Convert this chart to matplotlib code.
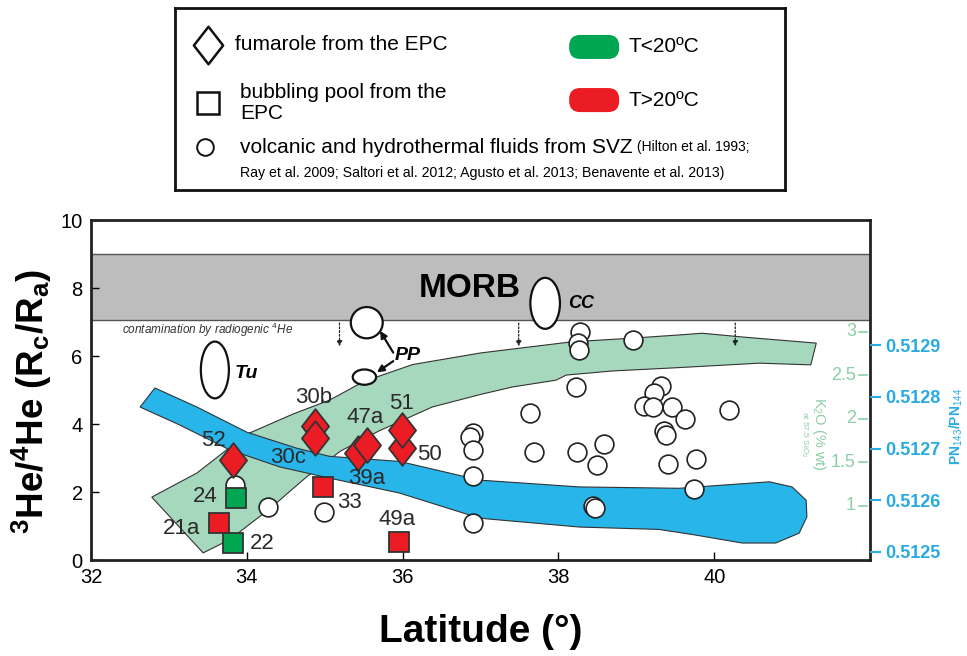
import matplotlib
matplotlib.use("Agg")
import matplotlib.pyplot as plt
from matplotlib.path import Path
from matplotlib.patches import Ellipse, Polygon, FancyBboxPatch
from matplotlib.transforms import blended_transform_factory

plt.rcParams['font.family'] = ['Liberation Sans', 'DejaVu Sans']
plt.rcParams['mathtext.fontset'] = 'custom'
plt.rcParams['mathtext.rm'] = 'Liberation Sans'
plt.rcParams['mathtext.it'] = 'Liberation Sans:italic'
plt.rcParams['mathtext.bf'] = 'Liberation Sans:bold'

# ---- data ----
# SVZ volcanic / hydrothermal fluids (open circles)
svz_lat = [33.85, 34.27, 34.99, 36.90, 36.87, 36.90, 36.90, 36.90,
           38.28, 38.25, 38.26, 38.96, 38.23, 37.63, 37.69, 38.24, 38.58, 38.49,
           38.44, 38.47, 39.32, 39.23, 39.10, 39.22, 39.46, 39.63, 39.36, 39.38,
           39.41, 39.77, 39.74, 40.19]
svz_he = [2.22, 1.56, 1.41, 3.73, 3.62, 3.24, 2.47, 1.09,
          6.72, 6.38, 6.18, 6.47, 5.08, 4.32, 3.18, 3.18, 3.41, 2.80,
          1.60, 1.53, 5.12, 4.90, 4.53, 4.50, 4.50, 4.15, 3.80, 3.68,
          2.82, 2.97, 2.09, 4.41]

# fumaroles from the EPC (diamonds, all T>20 C)
fum_names = ["52", "30b", "30c", "39a", "47a", "50", "51"]
fum_lat = [33.82, 34.87, 34.87, 35.43, 35.54, 35.99, 35.99]
fum_he = [2.94, 3.95, 3.60, 3.14, 3.38, 3.30, 3.82]

# bubbling pools from the EPC (squares)
pool_names = ["24", "22", "21a", "33", "49a"]
pool_lat = [33.86, 33.82, 33.64, 34.98, 35.95]
pool_he = [1.82, 0.50, 1.09, 2.14, 0.53]
pool_hot = [False, False, True, True, True]

# K2O trend band (green)
k2o_band_lat = [32.78, 33.36, 34.00, 34.60, 35.06, 35.50, 36.13, 37.00, 37.50, 38.18,
                38.91, 39.55, 39.85, 40.36, 40.83, 41.31,
                41.24, 40.58, 39.55, 38.69, 38.10, 37.97, 37.41, 37.00, 36.38,
                35.70, 35.20, 34.77, 34.29, 33.78, 33.44]
k2o_band_he = [1.85, 2.56, 3.70, 4.30, 4.70, 5.25, 5.75, 6.09, 6.23, 6.42,
               6.52, 6.62, 6.67, 6.56, 6.47, 6.38,
               5.74, 5.79, 5.66, 5.56, 5.44, 5.29, 5.09, 4.87, 4.50,
               3.80, 3.20, 2.45, 1.50, 0.60, 0.21]

# Nd isotope trend band (blue)
nd_band_lat = [32.82, 33.36, 34.00, 34.64, 35.06, 35.96, 36.99, 38.27, 39.55, 40.15,
               40.71, 41.00, 41.18, 41.19, 41.09, 40.79, 40.36, 39.72, 39.29, 38.27,
               36.99, 35.96, 35.06, 34.42, 33.78, 33.14, 32.63]
nd_band_he = [5.06, 4.50, 3.76, 3.29, 3.05, 2.90, 2.35, 2.15, 2.11, 2.21,
              2.30, 2.15, 1.76, 1.27, 0.79, 0.50, 0.50, 0.75, 0.90, 0.97,
              1.23, 1.97, 2.41, 2.74, 3.24, 3.97, 4.50]

# literature fields (ellipses): name, lat, He, width, height
field_names = ["Tu", "PP", "PP", "CC"]
field_lat = [33.59, 35.54, 35.51, 37.83]
field_he = [5.59, 6.98, 5.38, 7.55]
field_w = [0.36, 0.41, 0.30, 0.38]
field_h = [1.67, 0.92, 0.45, 1.50]

morb_low, morb_high = 7.05, 9.0
contam_lat = [35.19, 37.49, 40.27]

k2o_ticks = [1, 1.5, 2, 2.5, 3]
nd_ticks = [0.5125, 0.5126, 0.5127, 0.5128, 0.5129]

red = "#ec1c24"
green = "#00a651"
band_green = "#a6d8be"
band_blue = "#27b5ea"
k2o_col = "#8ccfa6"
nd_col = "#29abe2"
edge = "#333333"

fig = plt.figure(figsize=(9.67, 6.56), dpi=100)
ax = fig.add_axes([0.0941, 0.1463, 0.8056, 0.5183])
ax.set_xlim(32, 42)
ax.set_ylim(0, 10)

ax.axhspan(morb_low, morb_high, fc="#bdbdbd", ec="#555555", lw=1.0, zorder=1)
ax.text(36.86, 8.0, "MORB", fontsize=24, fontweight="bold", ha="center", va="center", zorder=2)

ax.add_patch(Polygon(list(zip(k2o_band_lat, k2o_band_he)), closed=True,
                     fc=band_green, ec=edge, lw=0.8, zorder=2))
ax.add_patch(Polygon(list(zip(nd_band_lat, nd_band_he)), closed=True,
                     fc=band_blue, ec=edge, lw=0.8, zorder=3))

for x in contam_lat:
    ax.annotate("", xy=(x, 6.2), xytext=(x, morb_low),
                arrowprops=dict(arrowstyle="-|>", ls=(0, (1.5, 1.5)), lw=0.9,
                                color="#222222", mutation_scale=8), zorder=4)
ax.text(32.4, 6.76, "contamination by radiogenic $^4$He", fontsize=8.5,
        style="italic", color="#333333", va="center", zorder=4)

for n, x, y, w, h in zip(field_names, field_lat, field_he, field_w, field_h):
    ax.add_patch(Ellipse((x, y), w, h, fc="white", ec="#111111", lw=1.6, zorder=5))
ax.text(33.85, 5.5, "Tu", fontsize=14, style="italic", fontweight="bold", va="center", zorder=6)
ax.text(38.12, 7.55, "CC", fontsize=13, style="italic", fontweight="bold", va="center", zorder=6)
ax.text(35.9, 6.03, "PP", fontsize=14, style="italic", fontweight="bold", va="center", zorder=6)
for tgt in [(35.71, 6.74), (35.67, 5.52)]:
    ax.annotate("", xy=tgt, xytext=(35.88, 6.1 if tgt[1] > 6 else 5.85),
                arrowprops=dict(arrowstyle="-|>", lw=1.6, color="#111111",
                                mutation_scale=10, shrinkA=0, shrinkB=0), zorder=6)

ax.plot(svz_lat, svz_he, "o", ms=13.5, mfc="white", mec="#222222", mew=1.2, ls="none", zorder=6)

diamond = Path([(0, 1), (0.78, 0), (0, -1), (-0.78, 0), (0, 1)],
               [Path.MOVETO, Path.LINETO, Path.LINETO, Path.LINETO, Path.CLOSEPOLY])
for x, y in zip(fum_lat, fum_he):
    ax.plot(x, y, marker=diamond, ms=25, mfc=red, mec=edge, mew=1.3, ls="none", zorder=7)
for x, y, hot in zip(pool_lat, pool_he, pool_hot):
    ax.plot(x, y, "s", ms=15, mfc=red if hot else green, mec=edge, mew=1.3, ls="none", zorder=7)

# label offsets (points)
fum_offsets = {"52": (-14, 14), "30b": (-1, 20), "30c": (-19, -14), "39a": (6, -18),
               "47a": (-1, 20), "50": (20, -5), "51": (0, 19)}
pool_offsets = {"24": (-22, 1), "22": (21, 0), "21a": (-27, -4), "33": (19, -11), "49a": (-1, 16)}
for n, x, y in zip(fum_names, fum_lat, fum_he):
    dx, dy = fum_offsets[n]
    ax.annotate(n, (x, y), xytext=(dx, dy), textcoords="offset points", fontsize=16,
                color="#2a2a2a", ha="center", va="center", zorder=8)
for n, x, y in zip(pool_names, pool_lat, pool_he):
    dx, dy = pool_offsets[n]
    ax.annotate(n, (x, y), xytext=(dx, dy), textcoords="offset points", fontsize=16,
                color="#2a2a2a", ha="center", va="center", zorder=8)

ax.set_xticks([32, 34, 36, 38, 40])
ax.set_yticks([0, 2, 4, 6, 8, 10])
ax.tick_params(direction="in", length=6, width=1, labelsize=14.5, pad=6)
for s in ax.spines.values():
    s.set_linewidth(2)
    s.set_color("#222222")
ax.set_xlabel("Latitude (°)", fontsize=28, fontweight="bold", labelpad=19)
ax.set_ylabel(r"$\mathbf{^{3}He/^{4}He\ (R_{c}/R_{a})}$", fontsize=26.5)
ax.yaxis.set_label_coords(-0.048, 0.465)

# K2O scale (green, inside the plot)
ax_k = ax.twinx()
ax_k.set_ylim(1 - 1.59 / 2.56, 1 + 8.41 / 2.56)
ax_k.set_yticks([])
for s in ax_k.spines.values():
    s.set_visible(False)
tr = blended_transform_factory(ax.transAxes, ax_k.transData)
for k in k2o_ticks:
    ax_k.plot([0.986, 0.996], [k, k], color=k2o_col, lw=1.2, transform=tr, clip_on=False)
    ax_k.text(0.982, k, f"{k:g}", color=k2o_col, fontsize=13, ha="right", va="center", transform=tr)
ax_k.text(0.935, 0.37, r"K$_2$O (% wt)", color=k2o_col, fontsize=10.5, rotation=-90,
          ha="center", va="center", transform=ax.transAxes)
ax_k.text(0.915, 0.37, r"at 57.5 SiO$_2$", color=k2o_col, fontsize=6, rotation=-90,
          ha="center", va="center", transform=ax.transAxes)

# Nd isotope scale (blue, outside)
ax_n = ax.twinx()
ax_n.set_ylim(0.5125 - 0.24 / 1.52e4, 0.5125 + 9.76 / 1.52e4)
ax_n.set_yticks(nd_ticks)
ax_n.set_yticklabels([f"{v:.4f}" for v in nd_ticks])
ax_n.tick_params(axis="y", direction="out", length=8, width=1.5, colors=nd_col,
                 labelsize=13, pad=3)
for lbl in ax_n.get_yticklabels():
    lbl.set_fontweight("bold")
for s in ax_n.spines.values():
    s.set_visible(False)
fig.text(0.989, 0.35, r"PN$_{143}$/PN$_{144}$", color=nd_col, fontsize=10, fontweight="bold",
         rotation=90, ha="center", va="center")

# legend box
lg = fig.add_axes([0.181, 0.710, 0.631, 0.278])
lg.set_xlim(0, 610)
lg.set_ylim(182, 0)
lg.set_xticks([])
lg.set_yticks([])
for s in lg.spines.values():
    s.set_linewidth(2)
    s.set_color("#111111")
lg.plot(33, 37, marker=diamond, ms=27, mfc="white", mec="#111111", mew=1.8)
lg.text(60, 37, "fumarole from the EPC", fontsize=15, va="center")
lg.plot(33, 95, "s", ms=16, mfc="white", mec="#111111", mew=1.8)
lg.text(65, 84, "bubbling pool from the", fontsize=15, va="center")
lg.text(65, 105, "EPC", fontsize=15, va="center")
lg.plot(30, 139, "o", ms=12, mfc="white", mec="#111111", mew=1.4)
t = lg.text(65, 139, "volcanic and hydrothermal fluids from SVZ", fontsize=15, va="center")
lg.annotate(" (Hilton et al. 1993;", xy=(1, 0.5), xycoords=t, fontsize=10, va="center")
lg.text(65, 165, "Ray et al. 2009; Saltori et al. 2012; Agusto et al. 2013; Benavente et al. 2013)",
        fontsize=10.2, va="center")
for yy, col, lab in [(39, green, "T<20ºC"), (92, red, "T>20ºC")]:
    lg.add_patch(FancyBboxPatch((405, yy - 1), 28, 2, boxstyle="round,pad=11",
                                fc=col, ec="none"))
    lg.text(453, yy, lab, fontsize=15, va="center")

fig.savefig("out.png", dpi=100)
